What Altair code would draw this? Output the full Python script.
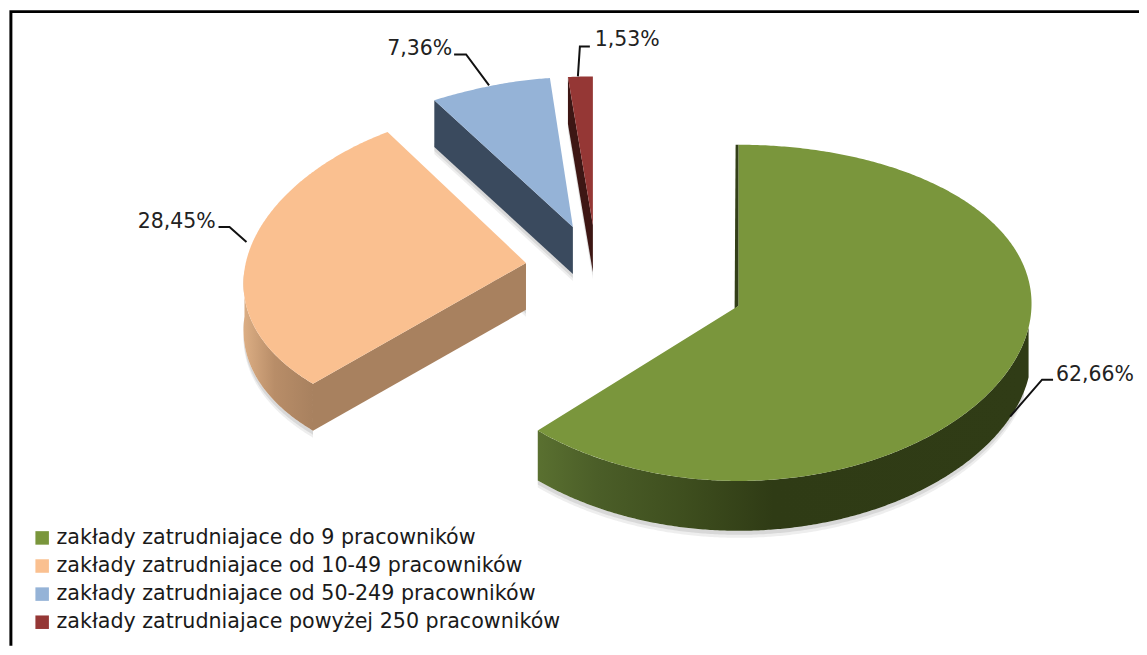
import math
import altair as alt
import pandas as pd

categories = ["zakłady zatrudniajace do 9 pracowników",
              "zakłady zatrudniajace od 10-49 pracowników",
              "zakłady zatrudniajace od 50-249 pracowników",
              "zakłady zatrudniajace powyżej 250 pracowników"]
shares = [62.66, 28.45, 7.36, 1.53]
labels = ["62,66%", "28,45%", "7,36%", "1,53%"]
top_colors = ["#7a963c", "#fac090", "#95b3d7", "#953735"]

# drawing geometry of each exploded slice: apex, radii, perspective, depth
cx = [738, 525, 572, 592]
cy = [307, 264, 228, 226]
rx = [293, 282, 389, 260]
ry = [168.5, 163, 150, 149]
off = [7, 7, 0, 0]
kx = [-0.055, 0.085, 0.385, 0]
depth = [50, 47, 47, 47]

label_x = [1056, 136, 386, 594]
label_y = [376, 223, 50, 41]
leader_x = [[1010, 1042, 1053], [217, 228, 245], [453, 465, 488], [577, 579, 589]]
leader_y = [[418, 381, 381], [228, 228, 243], [55, 55, 86], [77, 47, 47]]


def pt(i, deg):
    t = math.radians(deg)
    return (cx[i] + rx[i] * math.sin(t) * (1 - kx[i] * math.cos(t)),
            cy[i] + off[i] - ry[i] * math.cos(t))


starts, acc = [], 0.0
for s in shares:
    starts.append(acc)
    acc += s * 3.6


def arc(i, a, b):
    n = max(3, int(abs(b - a)) * 2)
    return [pt(i, a + (b - a) * j / n) for j in range(n + 1)]


def table(points, **extra):
    return pd.DataFrame([dict(x=p[0], y=p[1], o=j, **extra) for j, p in enumerate(points)])


xs = alt.X("x:Q", scale=alt.Scale(domain=[6.1, 1139.1]), axis=None)
ys = alt.Y("y:Q", scale=alt.Scale(domain=[647.7, 10.7]), axis=None)


def poly(points, fill, opacity=1):
    return alt.Chart(table(points)).mark_line(fill=fill, strokeWidth=0, opacity=opacity, clip=True).encode(
        x=xs, y=ys, order="o:Q")


def down(points, d, dx=0):
    return [(p[0] + dx, p[1] + d) for p in points]


def wall(points, d):
    return points + down(points, d)[::-1]


def grad(stops):
    return alt.Gradient(gradient="linear", x1=0, x2=1, y1=0, y2=0,
                        stops=[alt.GradientStop(color=c, offset=o) for o, c in stops])


layers = []

# soft shadows below the walls
for off_s, op in [(7, 0.10), (4, 0.14)]:
    g = arc(0, 100, starts[0] + shares[0] * 3.6)
    layers.append(poly(wall(down(g, depth[0]), off_s), "#555555", op))
    o = arc(1, starts[1], 270)
    layers.append(poly(wall(down(o, depth[1]), off_s), "#555555", op))
    for i in (1, 2, 3):
        apex = (cx[i], cy[i])
        edge = [pt(i, starts[i] + shares[i] * 3.6 if i == 1 else starts[i]), apex]
        layers.append(poly(wall(down(edge, depth[i] - 4, 0), off_s + 4), "#555555", op))

# green
apex0 = (cx[0], cy[0])
layers.append(poly(wall(arc(0, 95, starts[1]), depth[0]),
                   grad([(0, "#5a7030"), (0.12, "#4b5e28"), (0.3, "#3e4e1e"), (0.48, "#2f3b15"), (1, "#303c16")])))
layers.append(poly([pt(0, 0), (pt(0, 0)[0] - 3, pt(0, 0)[1]), (apex0[0] - 4, apex0[1] + 3), apex0], "#333f18"))

# orange
apex1 = (cx[1], cy[1])
layers.append(poly(wall(arc(1, starts[1], 270), depth[1]),
                   grad([(0, "#dcae84"), (0.45, "#b88d68"), (1, "#a8815f")])))
layers.append(poly(wall([apex1, pt(1, starts[1])], depth[1]), "#a8815f"))

# blue
layers.append(poly(wall([(cx[2], cy[2]), pt(2, starts[2])], depth[2]), "#3a4a5e"))

# red
layers.append(poly(wall([(cx[3], cy[3]), pt(3, starts[3])], depth[3]), "#3d1614"))

# top faces, which carry the legend
faces = []
for i, c in enumerate(categories):
    a = starts[i]
    b = a + shares[i] * 3.6
    pts = arc(i, a, b) + [(cx[i], cy[i])]
    faces.append(table(pts, cat=c))
faces = pd.concat(faces)
layers.append(alt.Chart(faces).mark_line(strokeWidth=0, clip=True).encode(
    x=xs, y=ys, order="o:Q", detail="cat:N",
    fill=alt.Fill("cat:N", scale=alt.Scale(domain=categories, range=top_colors),
                  legend=alt.Legend(title=None, orient="none", legendX=24, legendY=521,
                                    symbolType="square", symbolSize=185, symbolStrokeWidth=0,
                                    symbolOpacity=1, rowPadding=6.3, labelFontSize=20.8,
                                    labelFont="DejaVu Sans", labelColor="#1a1a1a", labelLimit=700,
                                    labelOffset=4, padding=0))))

# leader lines and labels
for lx, ly in zip(leader_x, leader_y):
    layers.append(alt.Chart(table(list(zip(lx, ly)))).mark_line(color="#111111", strokeWidth=2).encode(
        x=xs, y=ys, order="o:Q"))

layers.append(alt.Chart(pd.DataFrame({"x": label_x, "y": label_y, "t": labels})).mark_text(
    align="left", baseline="middle", fontSize=20.6, font="DejaVu Sans", color="#222222").encode(
    x=xs, y=ys, text="t:N"))

# frame of the picture
layers.append(alt.Chart(pd.DataFrame({"x": [9, 9, 1147], "y": [655, 12, 12], "o": [0, 1, 2]})).mark_line(
    color="#000000", strokeWidth=3, clip=True).encode(x=xs, y=ys, order="o:Q"))

chart = alt.layer(*layers).properties(
    width=1139, height=640, padding=0,
    autosize=alt.AutoSizeParams(type="fit", contains="padding")).configure_view(stroke=None)
chart.save("out.html", embed_options={"renderer": "svg", "actions": False})
